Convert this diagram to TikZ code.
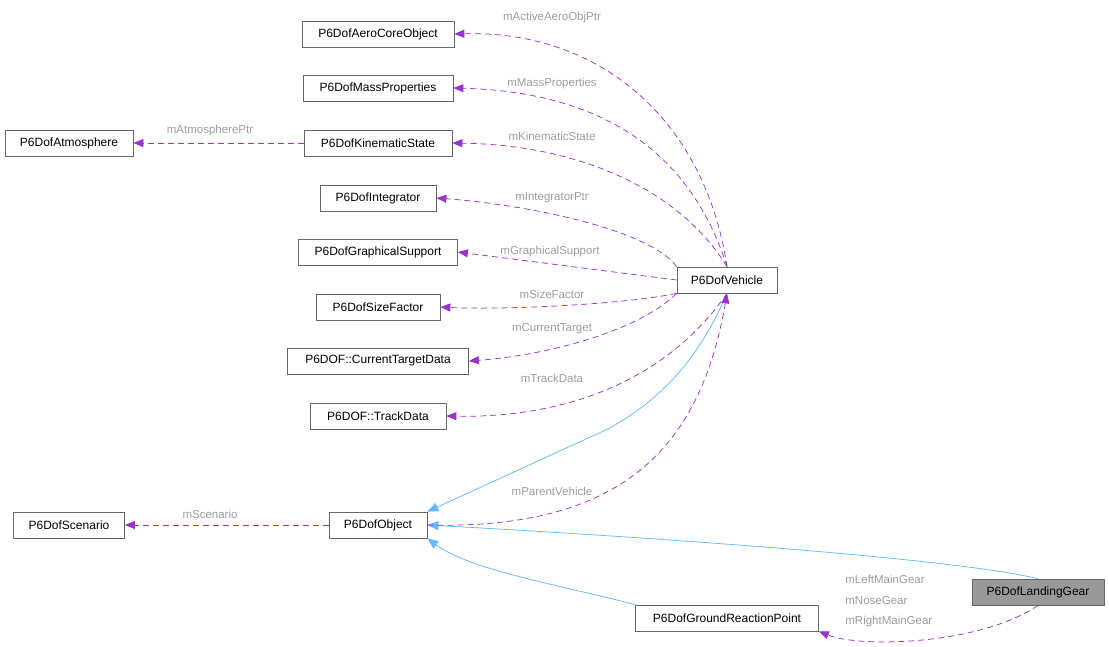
\documentclass[tikz,border=0pt]{standalone}
\usepackage{fontspec}
\setmainfont{Liberation Sans}
\usetikzlibrary{arrows.meta}
\definecolor{depcol}{HTML}{9A32CD}
\definecolor{inhcol}{HTML}{63B8FF}
\definecolor{lblcol}{HTML}{9C9C9C}
\tikzset{every picture/.style={line width=0.75pt}}
\tikzset{
  cls/.style={draw={rgb,255:red,102;green,102;blue,102},fill=white,inner sep=0pt,minimum height=26,font=\fontsize{12}{14}\selectfont},
  dep/.style={draw=depcol,dashed,dash pattern=on 6pt off 4pt,-{Triangle[length=10,width=8]},fill=none},
  inh/.style={draw=inhcol,-{Triangle[length=11,width=9]}},
  lbl/.style={text=lblcol,inner sep=0pt,font=\fontsize{11.5}{13}\selectfont}
}
\begin{document}
\begin{tikzpicture}[x=1pt,y=1pt,yscale=-1]
\useasboundingbox (0,0) rectangle (1109,646);

% Class boxes
\node[cls,minimum width=152] (aero) at (378,34) {P6DofAeroCoreObject};
\node[cls,minimum width=150] (mass) at (378,88) {P6DofMassProperties};
\node[cls,minimum width=128] (atm) at (69,143) {P6DofAtmosphere};
\node[cls,minimum width=148] (kin) at (378,143) {P6DofKinematicState};
\node[cls,minimum width=116] (integ) at (378,198) {P6DofIntegrator};
\node[cls,minimum width=159] (graph) at (378,252) {P6DofGraphicalSupport};
\node[cls,minimum width=124] (size) at (378,307) {P6DofSizeFactor};
\node[cls,minimum width=181] (ctd) at (378,361) {P6DOF::CurrentTargetData};
\node[cls,minimum width=136] (track) at (378,416) {P6DOF::TrackData};
\node[cls,minimum width=100] (veh) at (727,280) {P6DofVehicle};
\node[cls,minimum width=111] (scen) at (69,525) {P6DofScenario};
\node[cls,minimum width=98] (obj) at (378,525) {P6DofObject};
\node[cls,minimum width=132,fill={rgb,255:red,153;green,153;blue,153}] (gear) at (1038,592) {P6DofLandingGear};
\node[cls,minimum width=183] (grp) at (727,618) {P6DofGroundReactionPoint};

% Inheritance
\draw[inh] (veh.south) .. controls (690,380) and (640,410) .. (610,428) -- (obj.north east);
\draw[inh] (gear.north) .. controls (960,560) and (700,540) .. (obj.east);
\draw[inh] (grp.north west) .. controls (560,585) and (470,570) .. (obj.south east);

% Usage
\draw[dep] (veh.north) .. controls (705,120) and (600,30) .. (aero.east);
\draw[dep] (veh.north) .. controls (690,150) and (600,92) .. (mass.east);
\draw[dep] (veh.north) .. controls (680,190) and (580,145) .. (kin.east);
\draw[dep] (veh.north west) .. controls (650,230) and (530,205) .. (integ.east);
\draw[dep] (veh.west) -- (graph.east);
\draw[dep] (veh.south west) .. controls (620,305) and (500,310) .. (size.east);
\draw[dep] (veh.south west) .. controls (640,330) and (550,355) .. (ctd.east);
\draw[dep] (veh.south) .. controls (660,390) and (550,418) .. (track.east);
\draw[dep] (obj.east) .. controls (620,530) and (700,450) .. (veh.south);
\draw[dep] (kin.west) -- (atm.east);
\draw[dep] (obj.west) -- (scen.east);
\draw[dep] (gear.south) .. controls (980,645) and (860,648) .. (grp.south east);

% Labels
\node[lbl] (laero) at (552,18) {mActiveAeroObjPtr};
\node[lbl] (lmass) at (552,84) {mMassProperties};
\node[lbl] (lkin) at (552,136) {mKinematicState};
\node[lbl] (linteg) at (552,198) {mIntegratorPtr};
\node[lbl] (lgraph) at (550,252) {mGraphicalSupport};
\node[lbl] (lsize) at (552,294) {mSizeFactor};
\node[lbl] (lctd) at (552,329) {mCurrentTarget};
\node[lbl] (ltrack) at (552,378) {mTrackData};
\node[lbl] (lparent) at (552,491) {mParentVehicle};
\node[lbl] (latm) at (210,131) {mAtmospherePtr};
\node[lbl] (lscen) at (210,514) {mScenario};
\node[lbl,anchor=west] (lleft) at (845,579) {mLeftMainGear};
\node[lbl,anchor=west] (lnose) at (845,601) {mNoseGear};
\node[lbl,anchor=west] (lright) at (845,622) {mRightMainGear};
\end{tikzpicture}
\end{document}
